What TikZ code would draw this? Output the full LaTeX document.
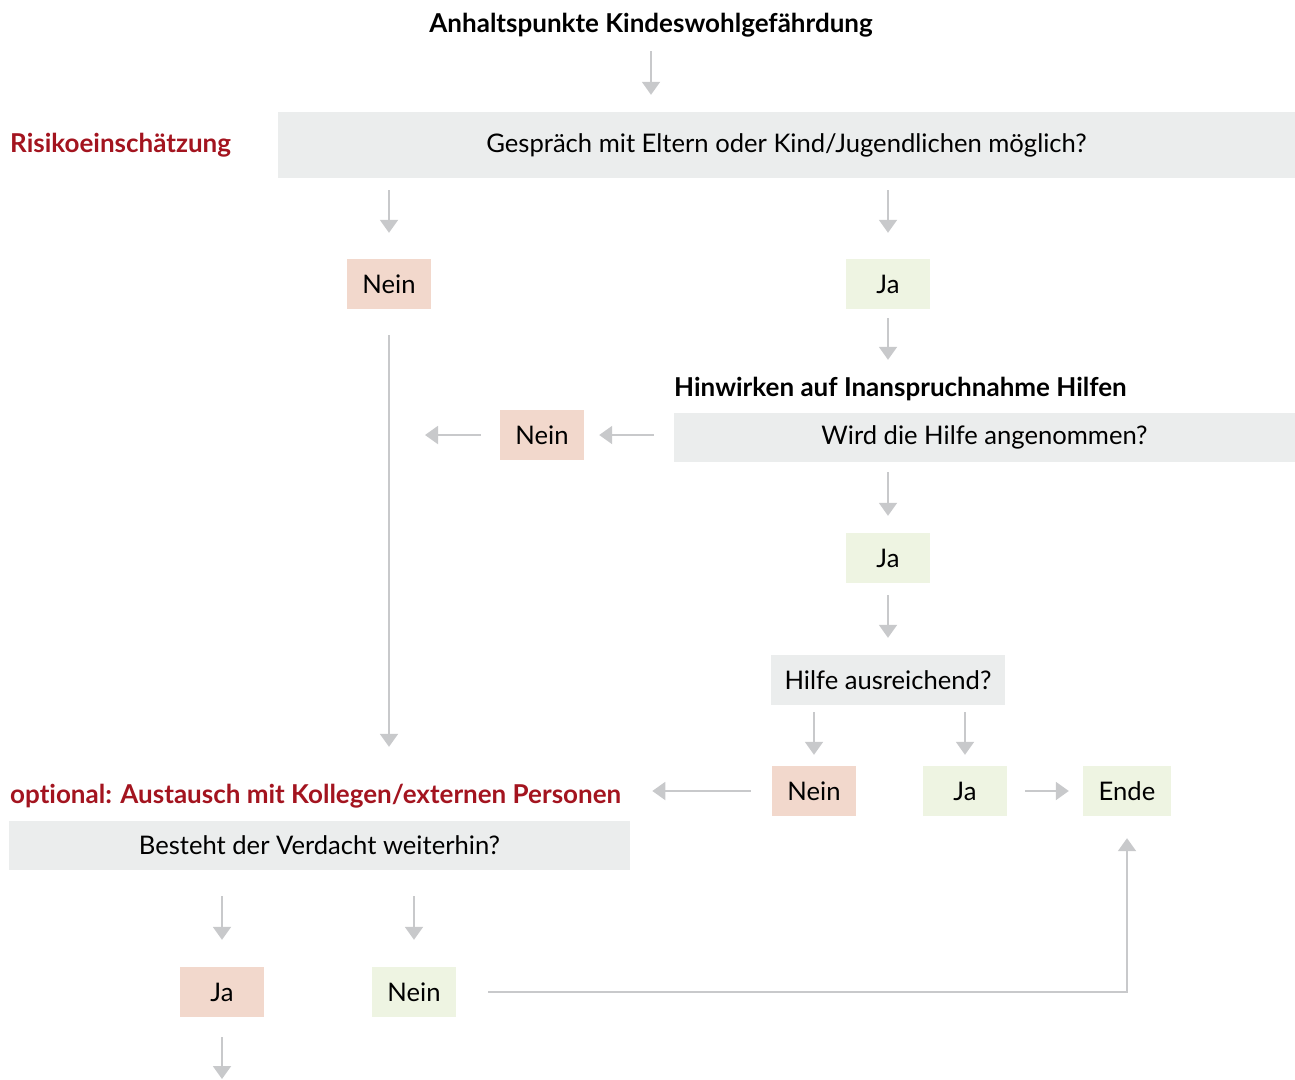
\documentclass[tikz,border=0pt]{standalone}
\usepackage{fontspec}
\setmainfont{Lato}[RawFeature={-liga;-clig;-dlig}]
\usetikzlibrary{arrows.meta}
\definecolor{boxgray}{HTML}{EBEDED}
\definecolor{boxpink}{HTML}{F2D8CC}
\definecolor{boxgreen}{HTML}{EEF4E2}
\definecolor{hred}{HTML}{A3141F}
\definecolor{arrgray}{HTML}{C8C9CB}
\tikzset{
  arr/.style={draw=arrgray, line width=2pt, -{Triangle[width=18pt,length=13pt]}},
  qbox/.style={fill=boxgray, inner sep=0pt, font=\fontsize{25.6}{30}\selectfont},
  pbox/.style={fill=boxpink, inner sep=0pt, minimum width=84pt, minimum height=50pt, font=\fontsize{25.6}{30}\selectfont},
  gbox/.style={fill=boxgreen, inner sep=0pt, minimum width=84pt, minimum height=50pt, font=\fontsize{25.6}{30}\selectfont},
  head/.style={inner sep=0pt, font=\fontsize{26}{30}\selectfont\bfseries},
  redhead/.style={head, text=hred},
}
\begin{document}
\begin{tikzpicture}[x=1pt,y=-1pt]
\useasboundingbox (0,0) rectangle (1295,1079);
% headings
\node[head] (t) at (651,25) {Anhaltspunkte Kindeswohlgefährdung};
\node[redhead, anchor=west] (risk) at (10,145) {Risikoeinschätzung};
\node[head, anchor=west] (hin) at (674,389) {Hinwirken auf Inanspruchnahme Hilfen};
\node[redhead, anchor=west] (opt) at (10,796) {optional: Austausch mit Kollegen/externen Personen};
% question boxes
\node[qbox, minimum width=1017pt, minimum height=66pt] (q1) at (786.5,145) {Gespräch mit Eltern oder Kind/Jugendlichen möglich?};
\node[qbox, minimum width=621pt, minimum height=49pt] (q2) at (984.5,437.5) {Wird die Hilfe angenommen?};
\node[qbox, minimum width=234pt, minimum height=50pt] (q3) at (888,680) {Hilfe ausreichend?};
\node[qbox, minimum width=621pt, minimum height=49pt] (q4) at (319.5,845.5) {Besteht der Verdacht weiterhin?};
% answer boxes
\node[pbox] (nein1) at (389,284) {Nein};
\node[gbox] (ja1) at (888,284) {Ja};
\node[pbox] (nein2) at (542,435) {Nein};
\node[gbox] (ja2) at (888,558) {Ja};
\node[pbox] (nein3) at (814,791) {Nein};
\node[gbox] (ja3) at (965,791) {Ja};
\node[gbox, minimum width=88pt] (ende) at (1127,791) {Ende};
\node[pbox] (ja4) at (222,992) {Ja};
\node[gbox] (nein4) at (414,992) {Nein};
\coordinate (bot) at (222,1079);
% connectors
\draw[arr, shorten <=14pt, shorten >=17pt] (t.south) -- (t.south |- q1.north);
\draw[arr, shorten <=12pt, shorten >=26pt] (q1.south -| nein1) -- (nein1.north);
\draw[arr, shorten <=12pt, shorten >=26pt] (q1.south -| ja1) -- (ja1.north);
\draw[arr, shorten <=9pt, shorten >=53pt] (ja1.south) -- (ja1.south |- q2.north);
\draw[arr, shorten <=26pt, shorten >=74pt] (nein1.south) -- (nein1.south |- q4.north);
\draw[arr, shorten <=20pt, shorten >=15pt] (q2.west |- nein2) -- (nein2.east);
\draw[arr, shorten <=19pt, shorten >=36pt] (nein2.west) -- (nein2 -| nein1);
\draw[arr, shorten <=10pt, shorten >=17pt] (q2.south -| ja2) -- (ja2.north);
\draw[arr, shorten <=12pt, shorten >=17pt] (ja2.south) -- (q3.north);
\draw[arr, shorten <=7pt, shorten >=11pt] (q3.south -| nein3) -- (nein3.north);
\draw[arr, shorten <=7pt, shorten >=11pt] (q3.south -| ja3) -- (ja3.north);
\draw[arr, shorten <=18pt, shorten >=14pt] (ja3.east) -- (ende.west);
\draw[arr, shorten <=21pt, shorten >=31pt] (nein3.west) -- (nein3.west -| opt.east);
\draw[arr, shorten <=26pt, shorten >=27pt] (q4.south -| ja4) -- (ja4.north);
\draw[arr, shorten <=26pt, shorten >=27pt] (q4.south -| nein4) -- (nein4.north);
\draw[arr, shorten <=32pt, shorten >=22pt] (nein4.east) -| (ende.south);
\draw[arr, shorten <=20pt] (ja4.south) -- (bot);
\end{tikzpicture}
\end{document}
